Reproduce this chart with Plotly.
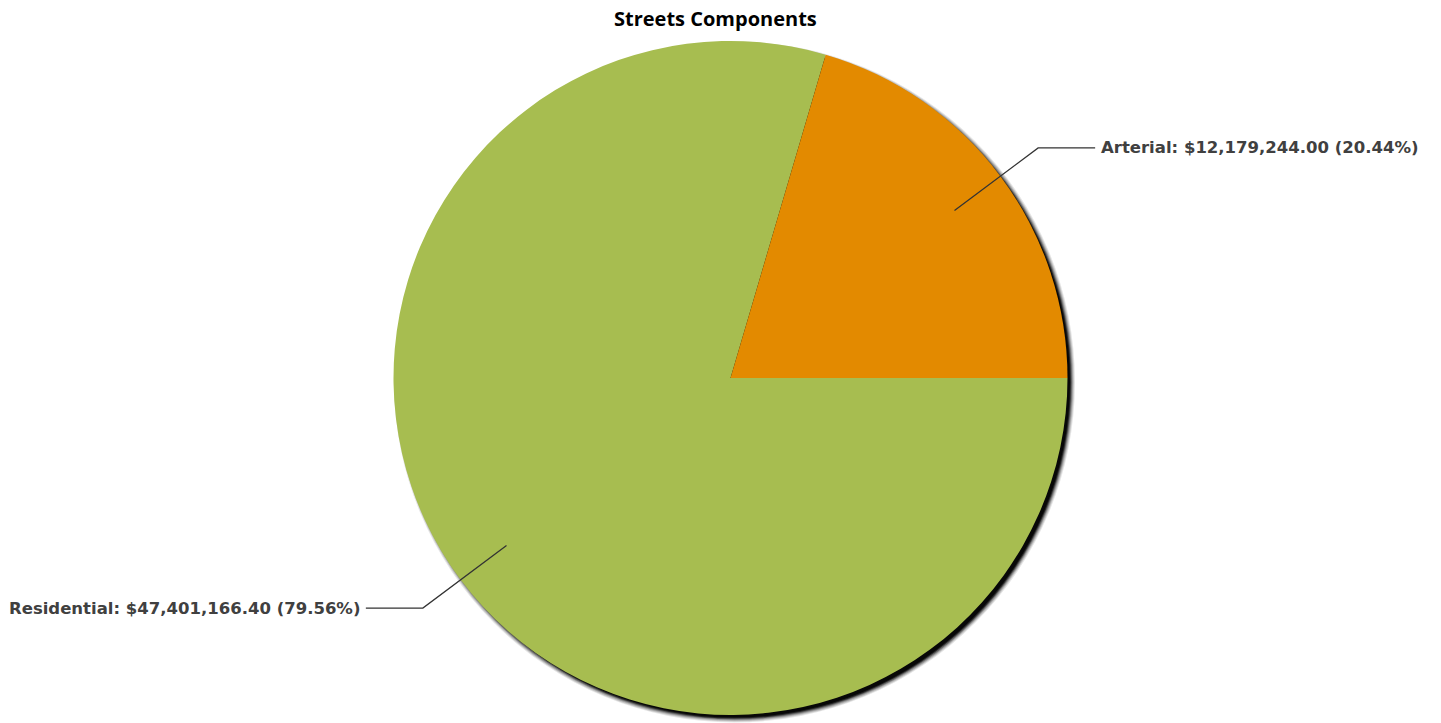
import math
import plotly.graph_objects as go

# Street component costs
categories = ["Arterial", "Residential"]
amounts = [12179244.00, 47401166.40]
slice_colors = ["#E38A00", "#A7BD50"]

chart_title = "Streets Components"

W, H = 1441, 723
CX, CY, R = 730.5, 378.0, 337.0   # pie centre / radius in pixels (from top-left)


def px(x):
    return x / W


def py(y):
    return 1 - y / H


fig = go.Figure()

# Arterial runs counter-clockwise from 3 o'clock; with plotly's counterclockwise
# mode the first listed slice sits clockwise of the start, so list it second.
fig.add_trace(go.Pie(
    labels=categories[::-1],
    values=amounts[::-1],
    sort=False,
    direction="counterclockwise",
    rotation=90,
    marker=dict(colors=slice_colors[::-1], line=dict(width=0)),
    textinfo="none",
    hoverinfo="label+value+percent",
    showlegend=False,
    domain=dict(x=[px(CX - R), px(CX + R)], y=[py(CY + R), py(CY - R)]),
))

shapes = []

# soft drop shadow behind the pie
for dr, op in [(3.5, 0.10), (2.5, 0.15), (1.5, 0.22), (0.5, 0.35), (-0.5, 0.6), (-1.5, 0.8)]:
    ox, oy = 4.0, 4.0
    shapes.append(dict(
        type="circle", xref="paper", yref="paper", layer="below",
        x0=px(CX + ox - R - dr), x1=px(CX + ox + R + dr),
        y0=py(CY + oy + R + dr), y1=py(CY + oy - R - dr),
        fillcolor=f"rgba(0,0,0,{op})", line=dict(width=0),
    ))

annotations = []
total = sum(amounts)
cum = 0.0
for name, val in zip(categories, amounts):
    frac = val / total
    mid = math.radians(360 * (cum + frac / 2))
    cum += frac
    c, s = math.cos(mid), math.sin(mid)
    x1, y1 = CX + 0.83 * R * c, CY - 0.83 * R * s
    x2, y2 = CX + 1.14 * R * c, CY - 1.14 * R * s
    side = 1 if c >= 0 else -1
    x3 = x2 + side * 57
    shapes.append(dict(
        type="path", xref="paper", yref="paper", layer="above",
        path=f"M {px(x1)},{py(y1)} L {px(x2)},{py(y2)} L {px(x3)},{py(y2)}",
        line=dict(color="#333333", width=1.3),
    ))
    annotations.append(dict(
        xref="paper", yref="paper",
        x=px(x3 + side * 4), y=py(y2),
        xanchor="left" if side > 0 else "right", yanchor="middle",
        text=f"{name}: ${val:,.2f} ({frac * 100:.2f}%)",
        showarrow=False,
        font=dict(family="DejaVu Sans", size=16.5, color="#404040", weight="bold"),
    ))

annotations.append(dict(
    xref="paper", yref="paper", x=px(715.5), y=py(18),
    xanchor="center", yanchor="middle",
    text=f"<b>{chart_title}</b>", showarrow=False,
    font=dict(family="Open Sans", size=20, color="#000000"),
))

fig.update_layout(
    width=W, height=H,
    margin=dict(l=0, r=0, t=0, b=0),
    paper_bgcolor="white", plot_bgcolor="white",
    shapes=shapes, annotations=annotations,
)

fig.write_html("out.html")
